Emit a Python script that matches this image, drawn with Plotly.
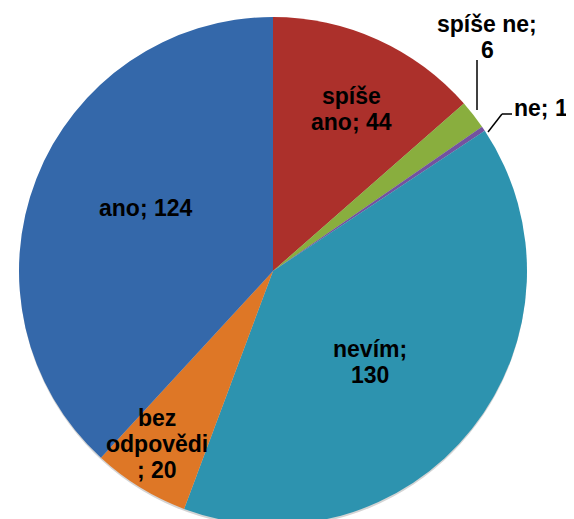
import plotly.graph_objects as go

# data (order as drawn: clockwise from 12 o'clock)
odpovedi = ["spíše ano", "spíše ne", "ne", "nevím", "bez odpovědi", "ano"]
pocty = [44, 6, 1, 130, 20, 124]
barvy = ["#AC302B", "#89AE3E", "#7352A0", "#2D93AF", "#DE7726", "#3468AA"]

# label lines, wrapped like the original chart
popisky = [
    ["spíše", "ano; 44"],
    ["spíše ne;", "6"],
    ["ne; 1"],
    ["nevím;", "130"],
    ["bez", "odpovědi", "; 20"],
    ["ano; 124"],
]
# label anchor: centre x and baseline of the first line, in screen pixels
pozice = [(351, 103), (487, 31), (541, 115), (370, 356), (157, 425), (146, 215)]
RADEK = 26      # line spacing
VEL = 23        # font size

W, H = 574, 519
OFF = 8         # page body margin the figure gets shifted by


def fx(px_):
    return (px_ - OFF) / W


def fy(py_):
    return 1 - (py_ - OFF) / H


# pie centre and radius in screen pixels
CX, CY, R = 273, 271, 254
dom_x = [fx(CX - R), fx(CX + R)]
dom_y = [fy(CY + R), fy(CY - R)]
STIN = 3 / H

fig = go.Figure()

# soft drop shadow behind the pie
fig.add_trace(go.Pie(
    values=[1], labels=["stín"], sort=False, textinfo="none", hoverinfo="skip",
    marker=dict(colors=["#d4d4d4"], line=dict(width=0)),
    domain=dict(x=dom_x, y=[max(dom_y[0] - STIN, 0), dom_y[1] - STIN]),
    showlegend=False,
))

fig.add_trace(go.Pie(
    labels=odpovedi,
    values=pocty,
    sort=False,
    direction="clockwise",
    rotation=0,
    marker=dict(colors=barvy, line=dict(width=0)),
    textinfo="none",
    hoverinfo="label+value",
    domain=dict(x=dom_x, y=dom_y),
    showlegend=False,
))

for radky, (cx, base) in zip(popisky, pozice):
    for i, txt in enumerate(radky):
        b = base + i * RADEK
        fig.add_annotation(
            x=fx(cx), y=fy(b - 0.3 * VEL), xref="paper", yref="paper",
            xanchor="center", yanchor="middle",
            text=txt, showarrow=False, align="center",
            font=dict(family="Liberation Sans, Arial", size=VEL, color="black", weight="bold"),
        )

# leader lines for the two small slices (screen pixels)
vodici = [((477, 60), (477, 110)), ((488, 132), (502, 114)), ((502, 114), (512, 114))]
for (x0, y0), (x1, y1) in vodici:
    fig.add_shape(type="line", xref="paper", yref="paper",
                  x0=fx(x0), y0=fy(y0), x1=fx(x1), y1=fy(y1),
                  line=dict(color="black", width=1.5))

fig.update_layout(
    width=W, height=H,
    margin=dict(l=0, r=0, t=0, b=0),
    paper_bgcolor="white",
    plot_bgcolor="white",
)

fig.write_html("out.html")
